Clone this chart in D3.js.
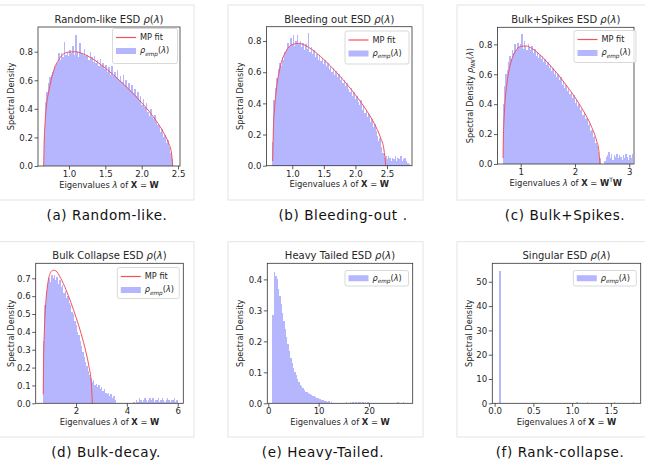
<!DOCTYPE html>
<html>
<head>
<meta charset="utf-8">
<script src="https://cdn.jsdelivr.net/npm/d3@7"></script>
<style>
  body { margin: 0; background: #fff; }
  svg text { font-family: "DejaVu Sans", sans-serif; }
</style>
</head>
<body>
<div id="chart"></div>
<script>
// ---- values ----
const titles = ["Random-like ESD", "Bleeding out ESD", "Bulk+Spikes ESD",
                "Bulk Collapse ESD", "Heavy Tailed ESD", "Singular ESD"];
const captions = ["(a) Random-like.", "(b) Bleeding-out .", "(c) Bulk+Spikes.",
                  "(d) Bulk-decay.", "(e) Heavy-Tailed.", "(f) Rank-collapse."];

const xTicks = [[1.0, 1.5, 2.0, 2.5], [1.0, 1.5, 2.0, 2.5], [1, 2, 3],
                [2, 4, 6], [0, 10, 20], [0.0, 0.5, 1.0, 1.5]];
const yTicks = [[0, 0.2, 0.4, 0.6, 0.8], [0, 0.2, 0.4, 0.6, 0.8], [0, 0.2, 0.4, 0.6, 0.8],
                [0, 0.1, 0.2, 0.3, 0.4, 0.5, 0.6, 0.7], [0, 0.1, 0.2, 0.3, 0.4],
                [0, 10, 20, 30, 40, 50]];
const xDomains = [[0.574, 2.527], [0.592, 2.896], [0.573, 3.087],
                  [0.413, 6.22], [-0.2, 28.7], [-0.03, 1.885]];
const yDomains = [[0, 0.973], [0, 0.892], [0, 0.914], [0, 0.784], [0, 0.452], [0, 57.6]];

// histogram bins: first edge and width per panel
const histStart = [0.65, 0.68, 0.67, 0.70, 0.80, 0.06];
const histWidth = [0.01977, 0.0218, 0.024, 0.053, 0.27, 0.0174];

const randomLikeHist = [
  0.20, 0.45, 0.52, 0.58, 0.62, 0.64, 0.66, 0.70, 0.69, 0.72,
  0.79, 0.74, 0.79, 0.76, 0.87, 0.78, 0.80, 0.77, 0.81, 0.79,
  0.84, 0.78, 0.92, 0.80, 0.76, 0.86, 0.79, 0.78, 0.82, 0.77,
  0.78, 0.74, 0.80, 0.76, 0.73, 0.77, 0.72, 0.74, 0.70, 0.75,
  0.70, 0.72, 0.68, 0.71, 0.66, 0.69, 0.64, 0.70, 0.63, 0.66,
  0.62, 0.67, 0.60, 0.63, 0.59, 0.64, 0.57, 0.60, 0.55, 0.58,
  0.53, 0.57, 0.51, 0.54, 0.49, 0.52, 0.46, 0.49, 0.43, 0.47,
  0.41, 0.44, 0.38, 0.35, 0.40, 0.34, 0.33, 0.36, 0.31, 0.29,
  0.28, 0.24, 0.26, 0.20, 0.22, 0.16, 0.18, 0.13, 0.09, 0.05
];
const bleedingHist = [
  0.15, 0.42, 0.50, 0.56, 0.62, 0.66, 0.64, 0.70, 0.68, 0.73,
  0.74, 0.79, 0.76, 0.82, 0.78, 0.84, 0.77, 0.80, 0.84, 0.78,
  0.80, 0.76, 0.79, 0.74, 0.78, 0.75, 0.85, 0.73, 0.76, 0.72,
  0.74, 0.70, 0.72, 0.68, 0.71, 0.67, 0.69, 0.65, 0.68, 0.64,
  0.66, 0.62, 0.64, 0.60, 0.63, 0.58, 0.61, 0.57, 0.59, 0.55,
  0.57, 0.53, 0.55, 0.51, 0.53, 0.49, 0.47, 0.50, 0.45, 0.47,
  0.43, 0.45, 0.41, 0.39, 0.42, 0.36, 0.38, 0.34, 0.36, 0.31,
  0.33, 0.28, 0.30, 0.25, 0.27, 0.22, 0.19, 0.16, 0.18, 0.12,
  0.08, 0.05, 0.06, 0.04, 0.06, 0.05, 0.03, 0.05, 0.04, 0.06,
  0.03, 0.05, 0.04, 0.06, 0.03, 0.04, 0.05, 0.03, 0.02, 0.01
];
const bulkSpikesHist = [
  0.40, 0.52, 0.60, 0.63, 0.68, 0.72, 0.70, 0.76, 0.74, 0.80,
  0.76, 0.81, 0.78, 0.80, 0.87, 0.77, 0.82, 0.79, 0.76, 0.80,
  0.78, 0.76, 0.79, 0.74, 0.77, 0.72, 0.75, 0.71, 0.73, 0.70,
  0.72, 0.68, 0.70, 0.66, 0.68, 0.64, 0.66, 0.62, 0.64, 0.60,
  0.62, 0.58, 0.60, 0.56, 0.58, 0.53, 0.55, 0.51, 0.53, 0.49,
  0.50, 0.47, 0.48, 0.44, 0.46, 0.41, 0.43, 0.39, 0.40, 0.36,
  0.37, 0.33, 0.34, 0.30, 0.31, 0.26, 0.27, 0.22, 0.23, 0.18,
  0.19, 0.14, 0.12, 0.08, 0.04, 0.00, 0.00, 0.00, 0.02, 0.05,
  0.06, 0.08, 0.04, 0.07, 0.03, 0.06, 0.05, 0.07, 0.04, 0.06,
  0.05, 0.03, 0.06, 0.04, 0.07, 0.05, 0.03, 0.06, 0.04, 0.07
];
const bulkDecayHist = [
  0.35, 0.55, 0.62, 0.66, 0.70, 0.68, 0.72, 0.70, 0.72, 0.69,
  0.71, 0.67, 0.69, 0.65, 0.66, 0.62, 0.63, 0.59, 0.60, 0.56,
  0.55, 0.51, 0.50, 0.46, 0.44, 0.40, 0.38, 0.35, 0.32, 0.29,
  0.26, 0.23, 0.21, 0.18, 0.16, 0.14, 0.12, 0.13, 0.10, 0.11,
  0.09, 0.10, 0.08, 0.09, 0.07, 0.08, 0.06, 0.05, 0.06, 0.04,
  0.05, 0.03, 0.04, 0.02, 0.00, 0.00, 0.00, 0.00, 0.00, 0.00,
  0.00, 0.00, 0.00, 0.00, 0.00, 0.00, 0.00, 0.01, 0.00, 0.02,
  0.01, 0.03, 0.02, 0.01, 0.02, 0.03, 0.02, 0.01, 0.02, 0.03,
  0.02, 0.03, 0.01, 0.02, 0.02, 0.03, 0.01, 0.02, 0.03, 0.02,
  0.01, 0.02, 0.03, 0.02, 0.01, 0.02, 0.02, 0.03, 0.01, 0.02
];
const heavyTailHist = [
  0.285, 0.425, 0.41, 0.40, 0.37, 0.345, 0.32, 0.29, 0.265, 0.24,
  0.215, 0.19, 0.17, 0.145, 0.13, 0.115, 0.10, 0.09, 0.078, 0.07,
  0.06, 0.055, 0.048, 0.044, 0.038, 0.035, 0.032, 0.03, 0.026, 0.024,
  0.022, 0.02, 0.018, 0.016, 0.015, 0.013, 0.012, 0.010, 0.006, 0.008,
  0.004, 0.006, 0.002, 0.004, 0, 0.002, 0, 0, 0, 0,
  0, 0.002, 0, 0, 0.003, 0.002, 0, 0.004, 0, 0.003,
  0.002, 0.004, 0, 0.003, 0.005, 0.002, 0.004, 0, 0.005, 0.002,
  0.003, 0, 0.002, 0, 0, 0, 0, 0, 0, 0,
  0, 0, 0, 0, 0, 0, 0, 0, 0, 0,
  0.002, 0, 0.003, 0, 0.002, 0, 0.003
];
const rankCollapseHist = [
  54.5, 0, 0, 0, 0, 0, 0, 0, 0, 0,
  0, 0, 0, 0, 0, 0, 0, 0, 0, 0,
  0, 0, 0, 0, 0, 0, 0, 0, 0.3, 0,
  0, 0, 0, 0, 0, 0, 0, 0, 0, 0,
  0, 0, 0, 0, 0, 0, 0, 0, 0, 0,
  0, 0, 0, 0, 0, 0, 0, 0.4, 0, 0.3,
  0, 0, 0, 0, 0, 0.5, 0, 0, 0, 0,
  0, 0, 0.3, 0, 0, 0, 0, 0, 0.3, 0,
  0, 0, 0, 0, 0, 0.5, 0, 0, 0, 0,
  0, 0, 0.3, 0, 0, 0, 0, 0, 0, 0.4
];

// Marchenko-Pastur fit curves, [lambda, density] points
const mpRandomLike = [
  [0.652, 0], [0.658, 0.15], [0.672, 0.31], [0.695, 0.44], [0.73, 0.54], [0.78, 0.65],
  [0.88, 0.76], [0.98, 0.796], [1.08, 0.80], [1.2, 0.784], [1.3, 0.758], [1.4, 0.724],
  [1.5, 0.685], [1.6, 0.643], [1.7, 0.597], [1.8, 0.549], [1.9, 0.498], [2.0, 0.443],
  [2.1, 0.384], [2.2, 0.316], [2.3, 0.235], [2.37, 0.16], [2.41, 0.09], [2.426, 0]
];
const mpBleeding = [
  [0.69, 0.03], [0.70, 0.219], [0.72, 0.366], [0.75, 0.493], [0.8, 0.617], [0.9, 0.734],
  [1.0, 0.777], [1.1, 0.785], [1.2, 0.773], [1.3, 0.749], [1.4, 0.718], [1.5, 0.682],
  [1.6, 0.642], [1.7, 0.599], [1.8, 0.554], [1.9, 0.506], [2.0, 0.455], [2.1, 0.400],
  [2.2, 0.339], [2.3, 0.269], [2.4, 0.177], [2.45, 0.108], [2.48, 0]
];
const mpBulkSpikes = [
  [0.675, 0.04], [0.68, 0.158], [0.70, 0.342], [0.75, 0.545], [0.8, 0.650], [0.9, 0.751],
  [1.0, 0.786], [1.1, 0.789], [1.2, 0.774], [1.3, 0.748], [1.4, 0.715], [1.5, 0.677],
  [1.6, 0.636], [1.7, 0.593], [1.8, 0.546], [1.9, 0.498], [2.0, 0.446], [2.1, 0.389],
  [2.2, 0.327], [2.3, 0.253], [2.4, 0.153], [2.44, 0.088], [2.46, 0]
];
const mpBulkDecay = [
  [0.71, 0.05], [0.72, 0.205], [0.75, 0.39], [0.8, 0.54], [0.9, 0.68], [1.0, 0.733],
  [1.1, 0.745], [1.2, 0.742], [1.4, 0.70], [1.6, 0.638], [1.8, 0.564], [2.0, 0.482],
  [2.2, 0.39], [2.4, 0.281], [2.5, 0.212], [2.6, 0.112], [2.64, 0]
];

const hists = [randomLikeHist, bleedingHist, bulkSpikesHist, bulkDecayHist, heavyTailHist, rankCollapseHist];
const fits = [mpRandomLike, mpBleeding, mpBulkSpikes, mpBulkDecay, null, null];

// ---- layout (pixels) ----
const width = 645, height = 460;
const layout = [
  { frame: [38, 27, 180, 166],      box: [-1, 5, 194, 200],   legend: [112.5, 28.5, 65, 35], yLab: 11.5, cap: [107, 220] },
  { frame: [266.5, 26.7, 412, 165.7], box: [228, 5, 423, 200], legend: [345, 31, 64, 33],   yLab: 240,  cap: [343, 220] },
  { frame: [497.5, 27.3, 634, 164], box: [457, 5, 646, 200],   legend: [574, 30.5, 62, 32], yLab: 470,  cap: [565, 220] },
  { frame: [35.7, 263.3, 183.3, 403.3], box: [-1, 241.7, 194, 437], legend: [117.3, 267.5, 62, 31], yLab: 11.5, cap: [106, 456.5] },
  { frame: [267.3, 263.3, 412.7, 403.3], box: [228, 241.7, 423, 437], legend: [345, 270.5, 63.5, 15.5], yLab: 240, cap: [323, 456.5] },
  { frame: [492.3, 263.3, 640.7, 403.3], box: [457, 241.7, 646, 437], legend: [573.3, 270.5, 63, 15.5], yLab: 469.5, cap: [560, 456.5] }
];

const barColor = "#b6b6ff";
const fitColor = "#f4505a";
const inkColor = "#262626";

const svg = d3.select("#chart").append("svg")
  .attr("width", width)
  .attr("height", height)
  .attr("viewBox", [0, 0, width, height]);

// text made of pieces: [string, style] with style "" | "i" | "b" | "sub" | "sup"
function richText(sel, parts, size) {
  let shift = 0;
  parts.forEach(([s, st]) => {
    const t = sel.append("tspan").text(s);
    let target = 0;
    if (st === "i") t.attr("font-style", "italic");
    if (st === "b") t.attr("font-weight", "bold");
    if (st === "sub") { t.attr("font-style", "italic").attr("font-size", size * 0.7); target = size * 0.25; }
    if (st === "sup") { t.attr("font-size", size * 0.7); target = -size * 0.4; }
    if (target !== shift) { t.attr("dy", target - shift); shift = target; }
  });
  if (shift !== 0) sel.append("tspan").attr("dy", -shift).text("\u200b");
}

const rhoLam = [["ρ", "i"], ["("], ["λ", "i"], [")"]];
const empLabel = [["ρ", "i"], ["emp", "sub"], ["("], ["λ", "i"], [")"]];
const xLabelXW = [["Eigenvalues "], ["λ", "i"], [" of "], ["X", "b"], [" = "], ["W", "b"]];
const xLabelWTW = [["Eigenvalues "], ["λ", "i"], [" of "], ["X", "b"], [" = "], ["W", "b"], ["T", "sup"], ["W", "b"]];
const yLabelPlain = [["Spectral Density"]];
const yLabelNN = [["Spectral Density "], ["ρ", "i"], ["NN", "sub"], ["("], ["λ", "i"], [")"]];

layout.forEach((L, k) => {
  const g = svg.append("g");
  const [fx0, fy0, fx1, fy1] = L.frame;

  g.append("rect")
    .attr("x", L.box[0]).attr("y", L.box[1])
    .attr("width", L.box[2] - L.box[0]).attr("height", L.box[3] - L.box[1])
    .attr("fill", "none").attr("stroke", "#e4e4e4").attr("stroke-width", 1);

  const x = d3.scaleLinear().domain(xDomains[k]).range([fx0, fx1]);
  const y = d3.scaleLinear().domain(yDomains[k]).range([fy1, fy0]);

  // crisp edges so that neighbouring bars don't leave antialiasing seams
  const start = histStart[k], w = histWidth[k];
  g.append("g")
    .attr("shape-rendering", "crispEdges")
    .selectAll("rect")
    .data(hists[k])
    .join("rect")
    .attr("x", (d, i) => x(start + i * w))
    .attr("width", x(start + w) - x(start) + 0.2)
    .attr("y", d => y(d))
    .attr("height", d => y(0) - y(d))
    .attr("fill", barColor);

  if (fits[k]) {
    const line = d3.line()
      .x(d => x(d[0]))
      .y(d => y(d[1]))
      .curve(d3.curveMonotoneX);
    g.append("path")
      .attr("d", line(fits[k]))
      .attr("fill", "none")
      .attr("stroke", fitColor)
      .attr("stroke-width", 1);
  }

  // axes
  const xFmt = k === 2 || k === 3 || k === 4 ? d3.format("d") : d3.format(".1f");
  const yFmt = k === 5 ? d3.format("d") : d3.format(".1f");
  const xa = g.append("g")
    .attr("transform", `translate(0,${fy1})`)
    .call(d3.axisBottom(x).tickValues(xTicks[k]).tickFormat(xFmt).tickSize(3.5).tickPadding(1.5));
  const ya = g.append("g")
    .attr("transform", `translate(${fx0},0)`)
    .call(d3.axisLeft(y).tickValues(yTicks[k]).tickFormat(yFmt).tickSize(3.5).tickPadding(1.5));
  [xa, ya].forEach(a => {
    a.select(".domain").remove();
    a.selectAll("line").attr("stroke", "#333").attr("stroke-width", 0.8);
    a.selectAll("text").attr("font-size", 8.6).attr("fill", inkColor)
      .attr("font-family", '"DejaVu Sans", sans-serif');
  });

  g.append("rect")
    .attr("x", fx0).attr("y", fy0)
    .attr("width", fx1 - fx0).attr("height", fy1 - fy0)
    .attr("fill", "none").attr("stroke", "#333").attr("stroke-width", 0.8);

  // title
  richText(g.append("text")
    .attr("x", (fx0 + fx1) / 2).attr("y", fy0 - 4)
    .attr("text-anchor", "middle").attr("font-size", 10).attr("fill", inkColor),
    [[titles[k] + " "]].concat(rhoLam), 10);

  // x label
  richText(g.append("text")
    .attr("x", (fx0 + fx1) / 2).attr("y", fy1 + 21.5)
    .attr("text-anchor", "middle").attr("font-size", 8.4).attr("fill", inkColor),
    k === 2 ? xLabelWTW : xLabelXW, 8.4);

  // y label
  richText(g.append("text")
    .attr("transform", `translate(${L.yLab},${(fy0 + fy1) / 2}) rotate(-90)`)
    .attr("dy", "0.35em")
    .attr("text-anchor", "middle").attr("font-size", 8.2).attr("fill", inkColor),
    k === 2 ? yLabelNN : yLabelPlain, 8.2);

  // legend
  const [lx, ly, lw, lh] = L.legend;
  const lg = g.append("g");
  lg.append("rect")
    .attr("x", lx).attr("y", ly).attr("width", lw).attr("height", lh)
    .attr("rx", 2).attr("fill", "#fff").attr("fill-opacity", 0.8)
    .attr("stroke", "#cfcfcf").attr("stroke-width", 0.8);
  let rowY = ly + 9;
  if (fits[k]) {
    lg.append("line")
      .attr("x1", lx + 3.5).attr("x2", lx + 23.5)
      .attr("y1", rowY).attr("y2", rowY)
      .attr("stroke", fitColor).attr("stroke-width", 1.2);
    lg.append("text").attr("x", lx + 27.5).attr("y", rowY).attr("dy", "0.35em")
      .attr("font-size", 8.2).attr("fill", inkColor).text("MP fit");
    rowY += 13.5;
  } else {
    rowY = ly + lh / 2;
  }
  lg.append("rect")
    .attr("x", lx + 3.5).attr("y", rowY - 3)
    .attr("width", 20).attr("height", 6)
    .attr("fill", barColor);
  richText(lg.append("text").attr("x", lx + 27.5).attr("y", rowY).attr("dy", "0.3em")
    .attr("font-size", 8.2).attr("fill", inkColor), empLabel, 8.2);

  // caption under the panel
  g.append("text")
    .attr("x", L.cap[0]).attr("y", L.cap[1])
    .attr("text-anchor", "middle")
    .attr("font-size", 13.5).attr("letter-spacing", 0.6)
    .attr("fill", "#111")
    .text(captions[k]);
});
</script>
</body>
</html>
